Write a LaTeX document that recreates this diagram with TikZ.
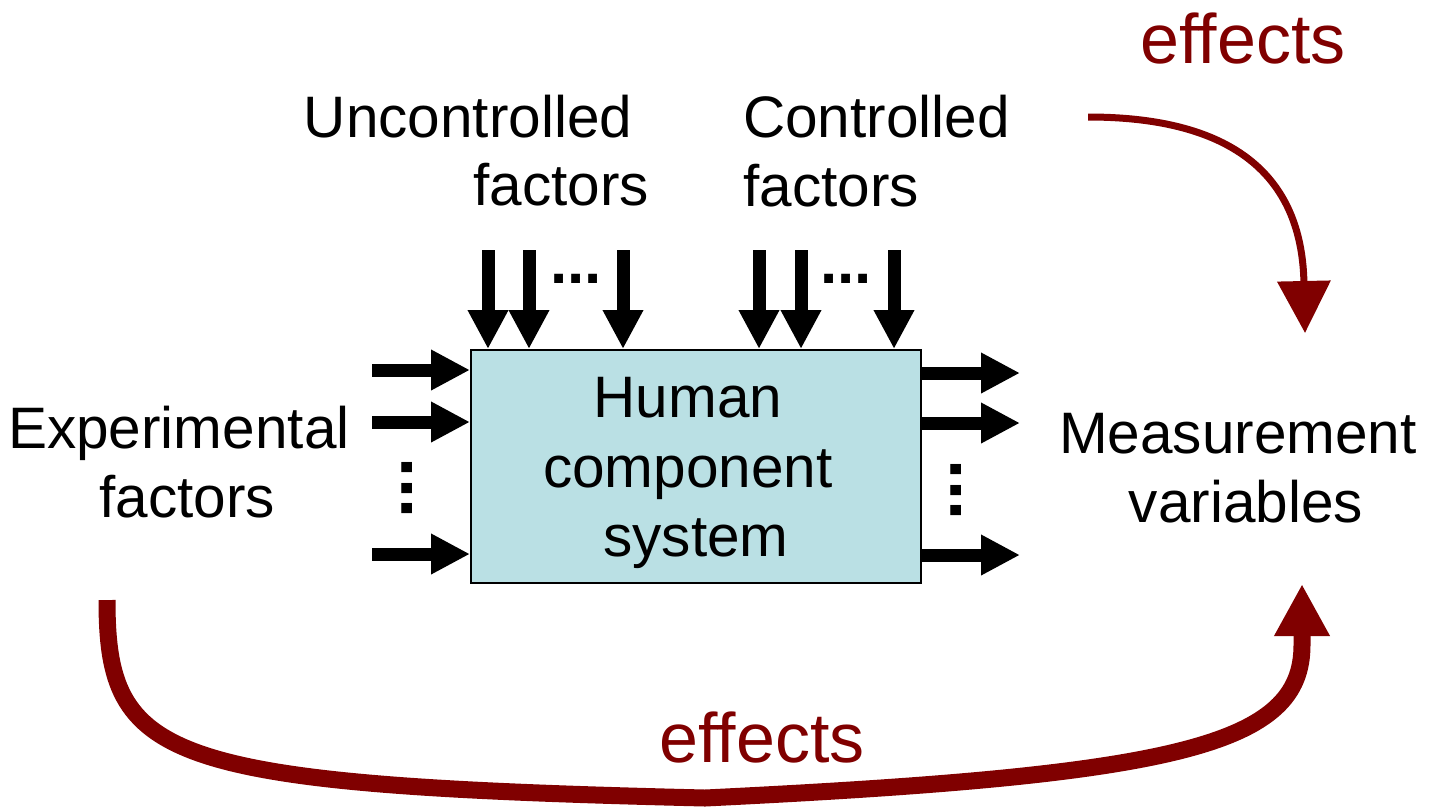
\documentclass[tikz,border=0pt]{standalone}
\usepackage{fontspec}
\setmainfont{Liberation Sans}
\usetikzlibrary{arrows.meta, positioning}
\definecolor{boxfill}{RGB}{186,224,228}
\definecolor{effred}{RGB}{128,0,0}

\begin{document}
\begin{tikzpicture}[x=1pt, y=-1pt,
        lbl/.style={font=\fontsize{58.5}{69}\selectfont, inner sep=0pt},
        efflbl/.style={font=\fontsize{70}{80}\selectfont, text=effred, inner sep=0pt},
        dotlbl/.style={font=\fontsize{#1}{#1}\selectfont\bfseries, inner sep=0pt},
        blk/.style={line width=13pt, -{Triangle[length=39pt, width=38pt]}},
        effarr/.style={color=effred, -{Triangle[length=52pt, width=52pt]}}]
        \useasboundingbox (0,0) rectangle (1439,807);

        \node[draw, line width=2pt, fill=boxfill, minimum width=450pt, minimum height=233pt] (hcs) at (696,466.5) {};
        \node[lbl, align=center, font=\fontsize{58.5}{69.5}\selectfont] (hcstext) at (696,473) {Human~\null\\component~\null\\system};

        \node[lbl, anchor=base] (unc1) at (468,137) {Uncontrolled};
        \node[lbl, anchor=base] (unc2) at (561,205) {factors};
        \node[lbl, align=left, anchor=west] (con) at (743,151) {Controlled\\factors};
        \node[lbl, align=center] (exper) at (187,462) {Experimental~\null\\factors};
        \node[lbl, align=center] (meas) at (1246,468) {Measurement~\null\\variables};
        \node[efflbl, anchor=base] (eff1) at (1243,63) {effects};
        \node[efflbl, anchor=base] (eff2) at (762,762) {effects};

        % dots
        \node[dotlbl=62, anchor=base] (udots) at (576,283) {...};
        \node[dotlbl=62, anchor=base] (cdots) at (846,283) {...};
        \node[dotlbl=72, rotate=90, anchor=base] (ldots) at (412,488) {...};
        \node[dotlbl=72, rotate=90, anchor=base] (rdots) at (961,490) {...};

        % factor arrows
        \foreach \x in {488,529,623,759,801,894}
            \draw[blk] (\x,250) -- (\x,250 |- hcs.north);
        \foreach \y in {370,422,554}
            \draw[blk] (372,\y) -- (372,\y -| hcs.west);
        \foreach \y in {373,423,555}
            \draw[blk] (hcs.east |- 0,\y) -- (1020,\y);

        % effects
        \coordinate (t1) at (1088,117);
        \coordinate (t2) at (1305,333);
        \draw[effarr, line width=7pt] (t1) .. controls (1250,117) and (1302,190) .. (t2);
        \coordinate (b1) at (107,600);
        \coordinate (b2) at (1302,584);
        \draw[effarr, line width=17pt] (b1) .. controls (107,760) and (160,785) .. (705,798)
            .. controls (1180,775) and (1302,745) .. (1302,645) -- (b2);
\end{tikzpicture}
\end{document}
